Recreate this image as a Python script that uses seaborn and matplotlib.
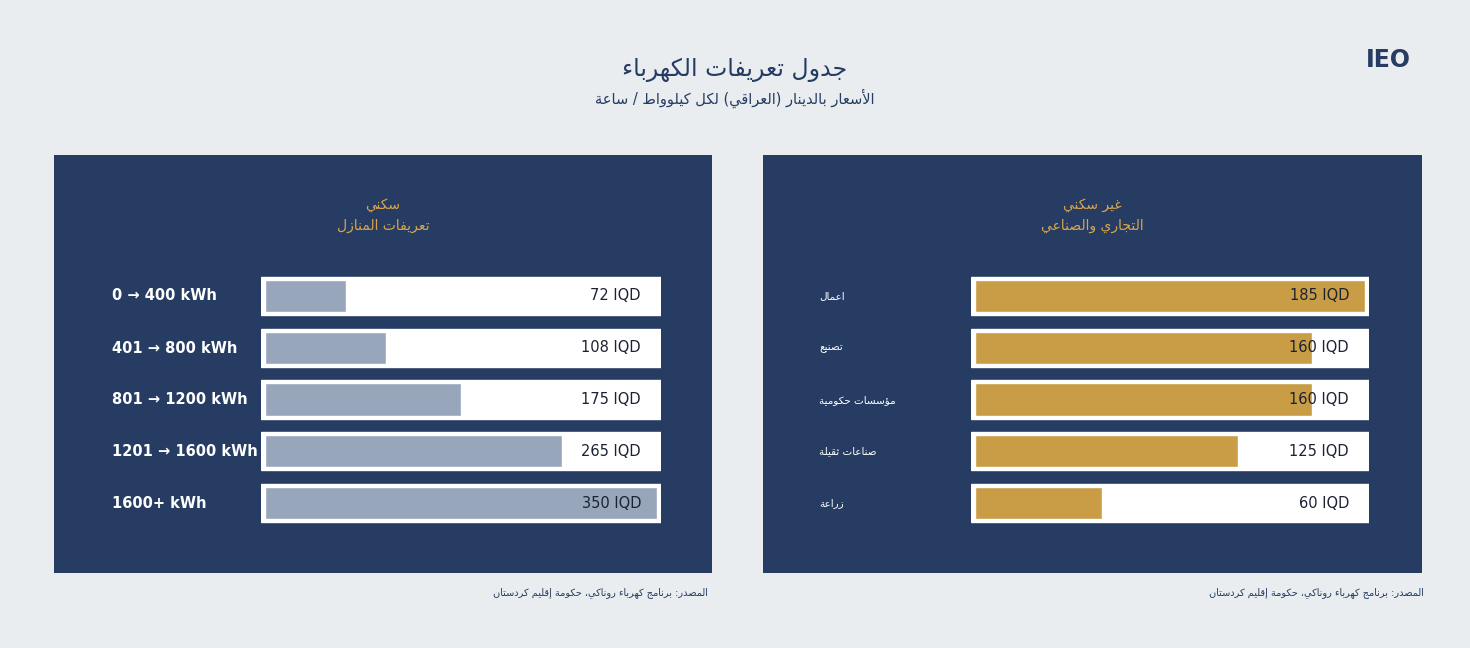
import matplotlib
matplotlib.use("Agg")
import matplotlib.pyplot as plt
import seaborn as sns
import pandas as pd

res_labels = ["0 → 400 kWh", "401 → 800 kWh", "801 → 1200 kWh", "1201 → 1600 kWh", "1600+ kWh"]
res_values = [72, 108, 175, 265, 350]
com_labels = ["اعمال", "تصنيع", "مؤسسات حكومية", "صناعات ثقيلة", "زراعة"]
com_values = [185, 160, 160, 125, 60]

BG = "#e9edf0"
NAVY = "#263c63"
GOLD = "#c89d45"
GREY = "#97a6bb"
W, H = 1470, 648

# --- tiny Arabic shaper (presentation forms + RTL order) ---
_order = [("ء", 1), ("آ", 2), ("أ", 2), ("ؤ", 2), ("إ", 2), ("ئ", 4), ("ا", 2), ("ب", 4), ("ة", 2),
          ("ت", 4), ("ث", 4), ("ج", 4), ("ح", 4), ("خ", 4), ("د", 2), ("ذ", 2), ("ر", 2), ("ز", 2),
          ("س", 4), ("ش", 4), ("ص", 4), ("ض", 4), ("ط", 4), ("ظ", 4), ("ع", 4), ("غ", 4), ("ف", 4),
          ("ق", 4), ("ك", 4), ("ل", 4), ("م", 4), ("ن", 4), ("ه", 4), ("و", 2), ("ى", 2), ("ي", 4)]
FORMS = {}
_c = 0xFE80
for ch, n in _order:
    FORMS[ch] = [chr(_c + i) for i in range(n)]
    _c += n
LAMALEF = {"ا": (0xFEFB, 0xFEFC), "أ": (0xFEF7, 0xFEF8), "إ": (0xFEF9, 0xFEFA), "آ": (0xFEF5, 0xFEF6)}


def shape(text):
    # merge lam-alef
    chars = []
    i = 0
    while i < len(text):
        if text[i] == "ل" and i + 1 < len(text) and text[i + 1] in LAMALEF:
            chars.append(("LA", text[i + 1]))
            i += 2
        else:
            chars.append((text[i], None))
            i += 1

    def joins_next(c):  # can connect to following letter
        if c[0] == "LA":
            return False
        return c[0] in FORMS and len(FORMS[c[0]]) == 4

    def is_letter(c):
        return c[0] == "LA" or c[0] in FORMS

    out = []
    for k, c in enumerate(chars):
        prev = chars[k - 1] if k > 0 else None
        nxt = chars[k + 1] if k + 1 < len(chars) else None
        jp = prev is not None and is_letter(prev) and joins_next(prev)
        jn = nxt is not None and is_letter(nxt) and joins_next(c)
        if c[0] == "LA":
            iso, fin = LAMALEF[c[1]]
            out.append(chr(fin if jp else iso))
        elif c[0] in FORMS:
            f = FORMS[c[0]]
            if len(f) == 1:
                out.append(f[0])
            elif len(f) == 2:
                out.append(f[1] if jp else f[0])
            else:
                if jp and jn:
                    out.append(f[3])
                elif jp:
                    out.append(f[1])
                elif jn:
                    out.append(f[2])
                else:
                    out.append(f[0])
        else:
            out.append(c[0])
    s = "".join(reversed(out))
    return s.translate(str.maketrans("()", ")("))


sns.set_theme(style="white")
plt.rcParams['font.family'] = ['DejaVu Sans']

fig = plt.figure(figsize=(W / 100, H / 100), dpi=100)
fig.patch.set_facecolor(BG)


def fx(x):
    return x / W


def fy(y):
    return 1 - y / H


def txt(x, y, s, **kw):
    fig.text(fx(x), fy(y), s, **kw)


def panel(x0, x1, y0, y1):
    ax = fig.add_axes([fx(x0), fy(y1), fx(x1 - x0), (y1 - y0) / H])
    ax.set_facecolor(NAVY)
    ax.set_xticks([])
    ax.set_yticks([])
    for s in ax.spines.values():
        s.set_visible(False)
    return ax


def bars(x0, x1, labels, values, color):
    ax = fig.add_axes([fx(x0), fy(529), fx(x1 - x0), (529 - 270) / H])
    ax.patch.set_alpha(0)
    vmax = max(values)
    pad = vmax * 0.011
    n = len(values)
    ax.barh(range(n), [vmax + 2 * pad] * n, left=-pad, height=0.74, color="white", zorder=0)
    df = pd.DataFrame({"label": labels, "value": values})
    sns.barplot(data=df, x="value", y="label", orient="h", color=color, saturation=1,
                width=0.62, ax=ax, zorder=2)
    ax.set_xlim(-pad, vmax + pad)
    ax.set_ylim(n - 0.5, -0.5)
    ax.axis("off")
    for i, v in enumerate(values):
        ax.text(0.95, i, f"{v} IQD", transform=ax.get_yaxis_transform(), ha="right", va="center",
                fontsize=10.5, color="#1c2233", zorder=3)


panel(54, 712, 155, 573)
panel(763, 1422, 155, 573)
bars(261, 661, res_labels, res_values, GREY)
bars(971, 1369, com_labels, com_values, GOLD)

ys = [296, 348, 400, 451, 503]
for y, lab in zip(ys, res_labels):
    txt(112, y, lab, ha="left", va="center", fontsize=10.5, color="white", fontweight="semibold")
for y, lab in zip(ys, com_labels):
    txt(819, y, shape(lab), ha="left", va="center", fontsize=7.5, color="white")

txt(383, 205, shape("سكني"), ha="center", va="center", fontsize=10, color="#d8a64a")
txt(383, 226, shape("تعريفات المنازل"), ha="center", va="center", fontsize=10, color="#d8a64a")
txt(1092, 205, shape("غير سكني"), ha="center", va="center", fontsize=10, color="#d8a64a")
txt(1092, 226, shape("التجاري والصناعي"), ha="center", va="center", fontsize=10, color="#d8a64a")

txt(735, 70, shape("جدول تعريفات الكهرباء"), ha="center", va="center", fontsize=17, color=NAVY)
txt(735, 98, shape("الأسعار بالدينار (العراقي) لكل كيلوواط / ساعة"), ha="center", va="center",
    fontsize=10.5, color=NAVY)
txt(1388, 60, "IEO", ha="center", va="center", fontsize=17, color=NAVY, fontweight="bold")

src = shape("المصدر: برنامج كهرباء روناكي، حكومة إقليم كردستان")
txt(708, 593, src, ha="right", va="center", fontsize=7, color=NAVY)
txt(1424, 593, src, ha="right", va="center", fontsize=7, color=NAVY)

fig.savefig("out.png", dpi=100, facecolor=BG)
